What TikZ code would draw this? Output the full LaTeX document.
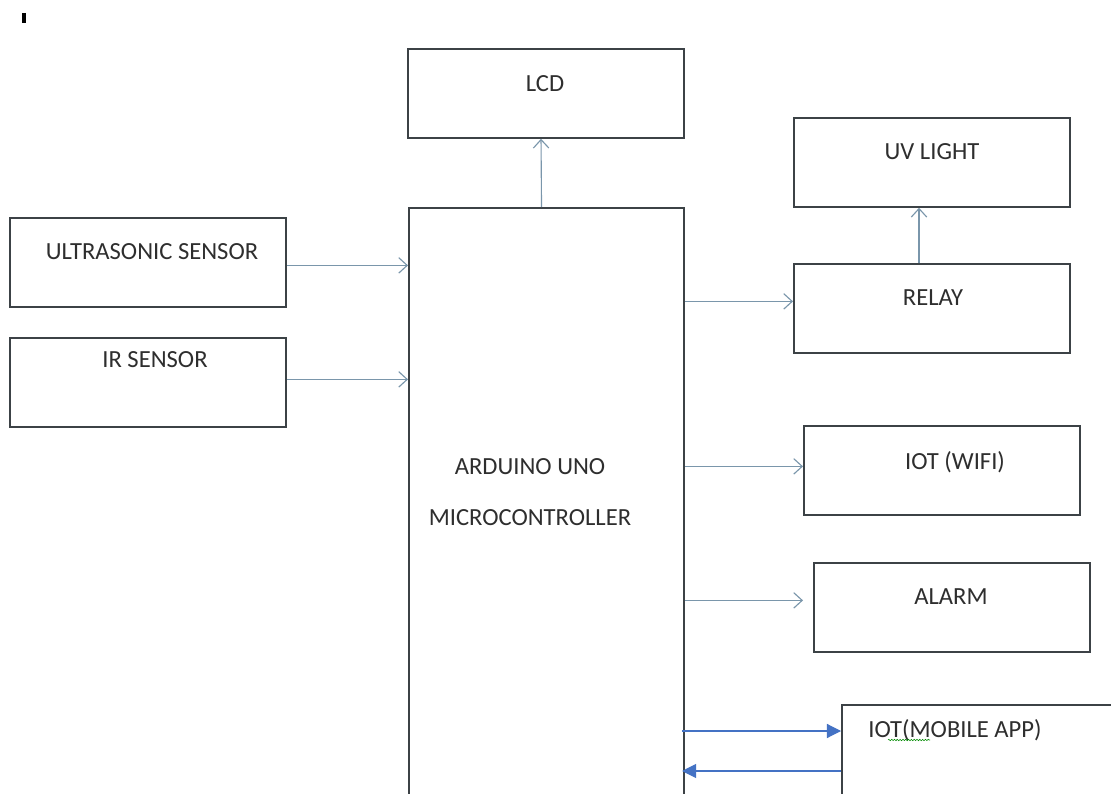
\documentclass[tikz,border=0pt]{standalone}
\usepackage{fontspec}
\setmainfont{Carlito}
\usetikzlibrary{arrows.meta,positioning,calc,decorations.pathmorphing}
\definecolor{boxgray}{RGB}{60,66,70}
\definecolor{arrgray}{RGB}{122,150,171}
\definecolor{appblue}{RGB}{68,114,196}

\begin{document}
\begin{tikzpicture}[x=0.025cm, y=-0.025cm,
    blk/.style={rectangle, draw=boxgray, line width=1.4pt, fill=white,
        anchor=north west, minimum width=6.9cm, minimum height=2.22cm,
        inner sep=0pt},
    lbl/.style={font=\fontsize{17.5}{20}\selectfont, text=black!82,
        text height=11pt, text depth=3pt, inner sep=0pt, yshift=-2pt},
    arr/.style={-{Straight Barb[length=6pt,width=11pt]}, arrgray, line width=0.8pt},
    barr/.style={-{Triangle[length=10pt,width=10pt]}, appblue, line width=0.8pt}
]
    \clip (0,0) rectangle (1111,794);
    \fill[white] (0,0) rectangle (1111,794);
    \draw[line width=2.5pt] (24,13) -- (24,23);

    % blocks
    \node[blk] (lcd) at (407,48) {};
    \node[blk] (us) at (9,217) {};
    \node[blk] (ir) at (9,337) {};
    \node[blk, minimum width=6.875cm, minimum height=15cm] (mcu) at (408,207) {};
    \node[blk] (uv) at (793,117) {};
    \node[blk] (relay) at (793,263) {};
    \node[blk] (wifi) at (803,425) {};
    \node[blk] (alarm) at (813,562) {};
    \node[blk, minimum height=2.4cm] (app) at (841,704) {};

    % labels
    \node[lbl] (lcdtxt) at (545,83) {LCD};
    \node[lbl] (ustxt) at (152,251) {ULTRASONIC SENSOR};
    \node[lbl] (irtxt) at (155,359) {IR SENSOR};
    \node[lbl] (mcutxt) at (530,466) {ARDUINO UNO};
    \node[lbl] (mcutxtb) at (530,517) {MICROCONTROLLER};
    \node[lbl] (uvtxt) at (932,151) {UV LIGHT};
    \node[lbl] (relaytxt) at (933,297) {RELAY};
    \node[lbl] (wifitxt) at (955,461) {IOT (WIFI)};
    \node[lbl] (alarmtxt) at (951,596) {ALARM};
    \node[lbl] (apptxt) at (955,729) {IOT(MOBILE APP)};
    \draw[green!55!black, line width=0.4pt, decorate,
        decoration={snake, amplitude=0.5pt, segment length=2pt}]
        (888,740) -- (930,740);

    % connections
    \draw[arr] ($(mcu.north)+(-5,0)$) -- ($(lcd.south)+(-5,0)$);
    \draw[arr] ($(us.east)+(0,3)$) -- ($(us.east -| mcu.west)+(0,3)$);
    \draw[arr] ($(ir.east)+(0,-3)$) -- ($(ir.east -| mcu.west)+(0,-3)$);
    \draw[arr] ($(relay.west -| mcu.east)+(0,-7)$) -- ($(relay.west)+(0,-7)$);
    \draw[arr] ($(relay.north)+(-13,0)$) -- ($(uv.south)+(-13,0)$);
    \draw[arr] ($(wifi.west -| mcu.east)+(0,-4)$) -- ($(wifi.west)+(0,-4)$);
    \draw[arr] ($(alarm.west -| mcu.east)+(0,-7)$) -- ($(alarm.west)+(-10,-7)$);
    \draw[barr] ($(app.west -| mcu.east)+(-3,-22)$) -- ($(app.west)+(0,-22)$);
    \draw[barr] ($(app.west)+(0,18)$) -- ($(app.west -| mcu.east)+(-3,18)$);
\end{tikzpicture}
\end{document}
